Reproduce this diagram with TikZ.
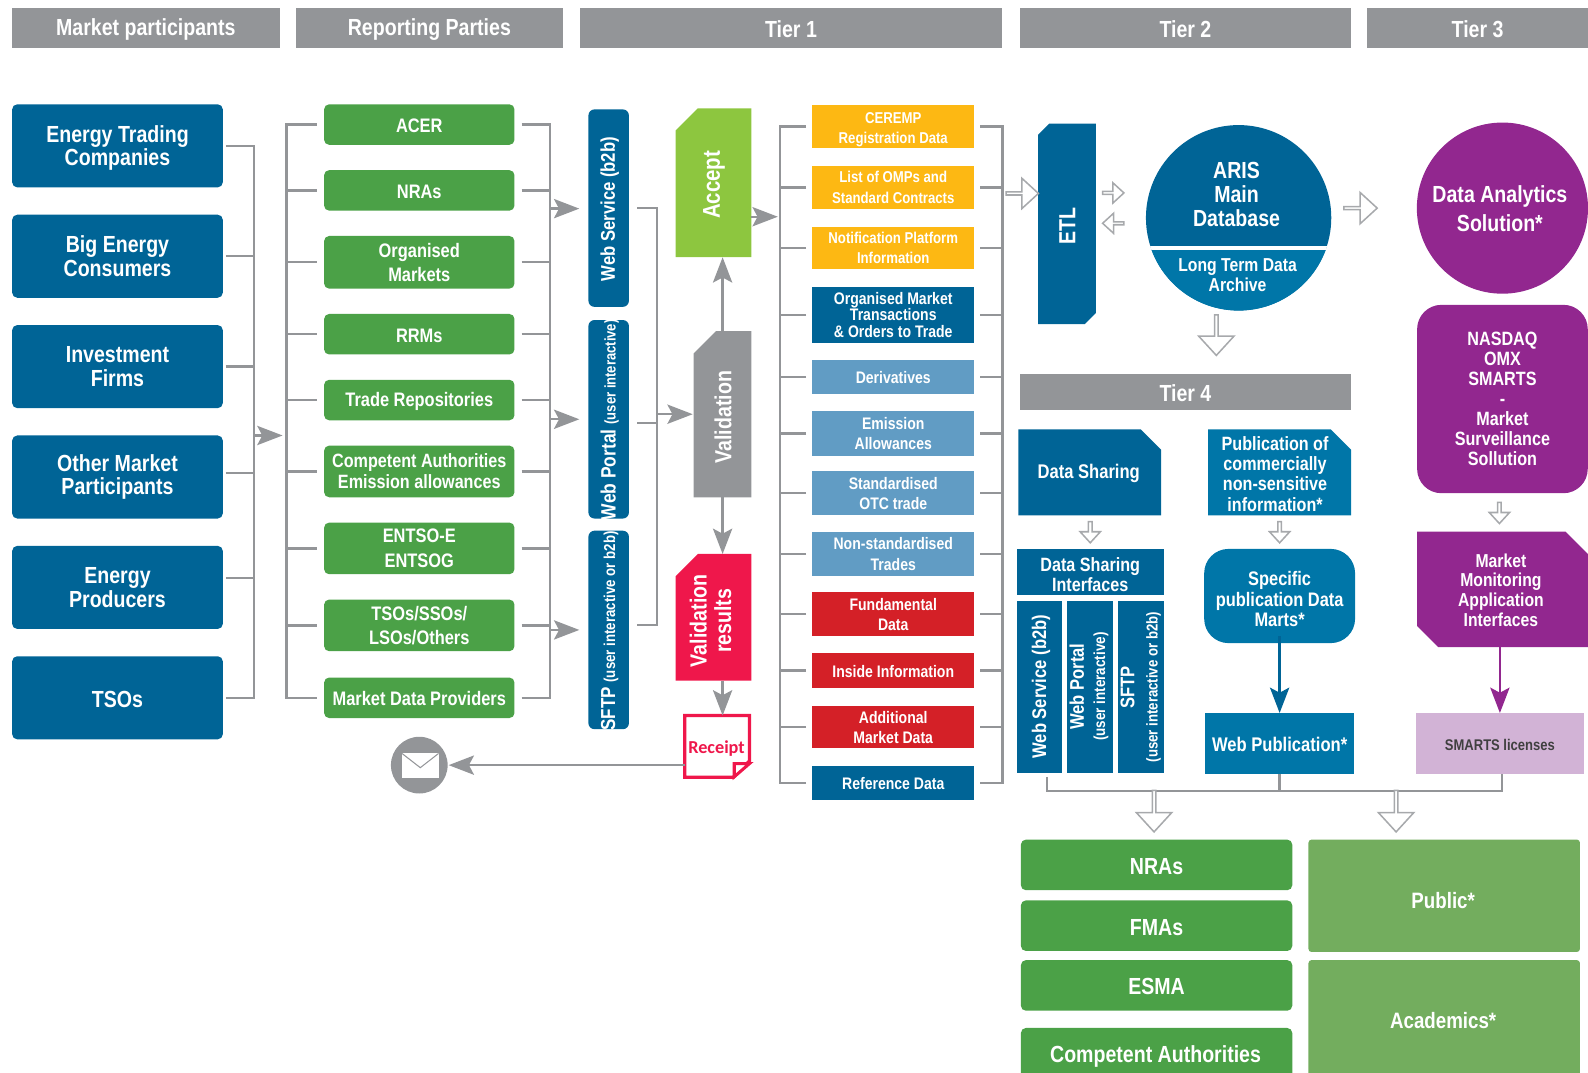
\documentclass[tikz,border=0pt]{standalone}
\usepackage{fontspec}
\usepackage{graphicx}
\setmainfont{Liberation Sans}[FakeStretch=0.84]
\newfontfamily\rcptfont{Carlito}
\usetikzlibrary{arrows.meta,shapes.arrows,calc}
\definecolor{cGray}{HTML}{939598}
\definecolor{cHollow}{HTML}{A7A9AC}
\definecolor{cBlue}{HTML}{006496}
\definecolor{cTeal}{HTML}{0076A8}
\definecolor{cGreen}{HTML}{4BA147}
\definecolor{cLGreen}{HTML}{73AD5E}
\definecolor{cLime}{HTML}{8DC63F}
\definecolor{cYellow}{HTML}{FDB813}
\definecolor{cSky}{HTML}{619CC4}
\definecolor{cRed}{HTML}{D42027}
\definecolor{cPink}{HTML}{EF174B}
\definecolor{cPurple}{HTML}{92278F}
\definecolor{cLilac}{HTML}{D2B3D6}
\newcommand\fz[2]{\fontsize{#1}{#2}\selectfont\bfseries}
\newcommand\rt[1]{\rotatebox{90}{\begin{tabular}{@{}c@{}}#1\end{tabular}}}
\newcommand\dnr[1]{\rule{0pt}{\dimexpr .74em+#1\relax}}
% polygon over a named rectangle: options, node, cut at NW, NE, SE, SW
\newcommand\poly[6]{\path[#1] ($(#2.north west)+(#3,0)$) -- ($(#2.north east)+(-#4,0)$) -- ($(#2.north east)+(0,#4)$) -- ($(#2.south east)+(0,-#5)$) -- ($(#2.south east)+(-#5,0)$) -- ($(#2.south west)+(#6,0)$) -- ($(#2.south west)+(0,-#6)$) -- ($(#2.north west)+(0,#3)$) -- cycle;}
\tikzset{
  box/.style={inner sep=0pt,outer sep=0pt,align=center,text=white,rectangle,execute at begin node={\dnr{2pt}}},
  hdr/.style={fill=cGray,font=\fz{23}{24}},
  mkt/.style={fill=cBlue,rounded corners=5pt,font=\fz{23}{23.5}},
  rep/.style={fill=cGreen,rounded corners=5pt,font=\fz{19.3}{24}},
  web/.style={fill=cBlue,rounded corners=6pt,font=\fz{20}{20}},
  t1y/.style={fill=cYellow,font=\fz{15.5}{20}},
  t1b/.style={fill=cBlue,font=\fz{16.5}{16.5}},
  t1s/.style={fill=cSky,font=\fz{16.5}{20}},
  t1r/.style={fill=cRed,font=\fz{16.5}{20}},
  tot/.style={fill=cGreen,rounded corners=5pt,font=\fz{23}{24}},
  totl/.style={fill=cLGreen,rounded corners=3pt,font=\fz{22}{24}},
  cutb/.style={rectangle,inner sep=0pt,outer sep=0pt},
  vert/.style={fill=cBlue,font=\fz{19.5}{20}},
  lbl/.style={inner sep=0pt,outer sep=0pt,align=center,text=white},
  wire/.style={draw=cGray,line width=2.3pt},
  arr/.style={wire,-{Stealth[length=25pt,width=19pt,inset=5pt]}},
  hollow/.style={single arrow,draw=cHollow,fill=white,line width=1.5pt,inner sep=0pt,outer sep=0pt,single arrow head indent=0pt,single arrow tip angle=85},
}
\begin{document}
\begin{tikzpicture}[x=1pt,y=-1pt]
\useasboundingbox (0,0) rectangle (1568,1059);
\clip (0,0) rectangle (1568,1059);
% headers
\node[box,hdr,minimum width=264,minimum height=39] (h1) at (144,27.5) {Market participants};
\node[box,hdr,minimum width=264,minimum height=39] (h2) at (424,27.5) {Reporting Parties};
\node[box,hdr,minimum width=416,minimum height=39] (h3) at (781,27.5) {Tier 1};
\node[box,hdr,minimum width=327,minimum height=39] (h4) at (1170.5,27.5) {Tier 2};
\node[box,hdr,minimum width=218,minimum height=39] (h5) at (1459,27.5) {Tier 3};
\node[box,hdr,minimum width=327,minimum height=35] (h6) at (1170.5,387) {Tier 4};
% market participants
\node[box,mkt,minimum width=208,minimum height=82] (m1) at (116,144) {\dnr{4pt}Energy Trading\\Companies};
\node[box,mkt,minimum width=208,minimum height=82] (m2) at (116,253) {Big Energy\\Consumers};
\node[box,mkt,minimum width=208,minimum height=82] (m3) at (116,362) {Investment\\Firms};
\node[box,mkt,minimum width=208,minimum height=82] (m4) at (116,471) {Other Market\\Participants};
\node[box,mkt,minimum width=208,minimum height=82] (m5) at (116,580) {Energy\\Producers};
\node[box,mkt,minimum width=208,minimum height=82] (m6) at (116,689) {TSOs};
% reporting parties
\node[box,rep,minimum width=188,minimum height=40] (r1) at (414,123) {ACER};
\node[box,rep,minimum width=188,minimum height=40] (r2) at (414,188) {NRAs};
\node[box,rep,minimum width=188,minimum height=52] (r3) at (414,259) {Organised\\Markets};
\node[box,rep,minimum width=188,minimum height=40] (r4) at (414,330) {RRMs};
\node[box,rep,minimum width=188,minimum height=40] (r5) at (414,395) {Trade Repositories};
\node[box,rep,minimum width=188,minimum height=51,font=\fz{19}{20.5}] (r6) at (414,465.5) {Competent Authorities\\Emission allowances};
\node[box,rep,minimum width=188,minimum height=51] (r7) at (414,541.5) {ENTSO-E\\ENTSOG};
\node[box,rep,minimum width=188,minimum height=51] (r8) at (414,617.5) {TSOs/SSOs/\\LSOs/Others};
\node[box,rep,minimum width=188,minimum height=40] (r9) at (414,689) {Market Data Providers};
% channels
\node[box,web,minimum width=40,minimum height=195] (w1) at (601,205.5) {};
\node[lbl,font=\fz{19.6}{20}] (w1T) at (602,206.5) {\rotatebox{90}{Web Service (b2b)}};
\node[box,web,minimum width=40,minimum height=196] (w2) at (601,414) {};
\node[lbl,font=\fz{20.5}{20}] (w2T) at (602,414.5) {\rotatebox{90}{Web Portal {\fontsize{15.3}{16}\selectfont (user interactive)}}};
\node[box,web,minimum width=40,minimum height=196] (w3) at (601,622) {};
\node[lbl,font=\fz{20}{20}] (w3T) at (602,623) {\rotatebox{90}{SFTP {\fontsize{15.6}{16}\selectfont (user interactive or b2b)}}};
% process
\node[cutb,minimum width=75,minimum height=147] (acc) at (704.5,180.5) {};
\poly{fill=cLime}{acc}{22}{0}{0}{0}
\node[lbl,font=\fz{24}{26}] (accT) at (705,182.5) {\rotatebox{90}{Accept}};
\node[cutb,minimum width=57,minimum height=164] (val) at (713.5,409) {};
\poly{fill=cGray}{val}{22}{0}{0}{0}
\node[lbl,font=\fz{23}{26}] (valT) at (714,412) {\rotatebox{90}{Validation}};
\node[cutb,minimum width=75,minimum height=125] (res) at (704.5,609.5) {};
\poly{fill=cPink}{res}{22}{0}{0}{0}
\node[lbl,font=\fz{23}{24}] (resT) at (705,613) {\rt{Validation\\results}};
\node[cutb,minimum width=64,minimum height=61] (rec) at (708,737) {};
\poly{fill=white,draw=cPink,line width=3.2pt,line join=miter}{rec}{0}{0}{16}{0}
\node[lbl,text=cPink,font=\rcptfont\fontsize{18}{19}\selectfont\bfseries] (recT) at (707.5,739.5) {Receipt};
\coordinate (foldA) at (725,754);
\coordinate (foldB) at (740,754);
\coordinate (foldC) at (725,767);
\draw[cPink,line width=3pt,fill=white,line join=miter] (foldA) -- (foldB) -- (foldC) -- cycle;
\node[circle,fill=cGray,minimum size=56,inner sep=0pt,outer sep=0pt] (mail) at (414,755.5) {};
\node[rectangle,fill=white,minimum width=36,minimum height=24,inner sep=0pt,outer sep=0pt] (env) at (415,756) {};
\coordinate (envV) at (415,758);
\draw[cGray,line width=1pt] (env.north west) -- (envV) -- (env.north east);
% tier 1 boxes
\node[box,t1y,minimum width=160,minimum height=42] (a1) at (882,125) {\dnr{6pt}CEREMP\\Registration Data};
\node[box,t1y,minimum width=160,minimum height=42] (a2) at (882,185) {List of OMPs and\\Standard Contracts};
\node[box,t1y,minimum width=160,minimum height=42] (a3) at (882,245) {Notification Platform\\Information};
\node[box,t1b,minimum width=160,minimum height=55] (a4) at (882,311) {Organised Market\\Transactions\\\& Orders to Trade};
\node[box,t1s,minimum width=160,minimum height=34] (a5) at (882,372) {Derivatives};
\node[box,t1s,minimum width=160,minimum height=44] (a6) at (882,428) {Emission\\Allowances};
\node[box,t1s,minimum width=160,minimum height=44] (a7) at (882,487) {Standardised\\OTC trade};
\node[box,t1s,minimum width=160,minimum height=44] (a8) at (882,547) {Non-standardised\\Trades};
\node[box,t1r,minimum width=160,minimum height=43] (a9) at (882,606.5) {Fundamental\\Data};
\node[box,t1r,minimum width=160,minimum height=34] (a10) at (882,662) {Inside Information};
\node[box,t1r,minimum width=160,minimum height=42] (a11) at (882,718) {Additional\\Market Data};
\node[box,t1b,minimum width=160,minimum height=34] (a12) at (882,773) {Reference Data};
% tier 2
\node[cutb,minimum width=57,minimum height=198] (etl) at (1053.5,221) {};
\poly{fill=cBlue}{etl}{11}{0}{11}{0}
\node[lbl,font=\fz{23}{26}] (etlT) at (1054,223) {\rotatebox{90}{ETL}};
\node[circle,fill=cBlue,minimum size=183,inner sep=0pt,outer sep=0pt] (aris) at (1223,215) {};
\begin{scope}
  \clip (aris.center) circle (91.7);
  \fill[white] (1120,242.6) rectangle (1330,247);
  \fill[cTeal] (1120,247) rectangle (1330,310);
\end{scope}
\node[lbl,font=\fz{23}{24}] (arisT) at (1221,192) {ARIS\\Main\\Database};
\node[lbl,font=\fz{18.5}{20}] (arisB) at (1222,272) {Long Term Data\\Archive};
% tier 3
\node[circle,fill=cPurple,minimum size=169,inner sep=0pt,outer sep=0pt] (das) at (1483.5,205.5) {};
\node[lbl,font=\fz{23}{28}] (dasT) at (1481,206) {Data Analytics\\Solution*};
\node[box,fill=cPurple,rounded corners=24pt,minimum width=168.5,minimum height=186,font=\fz{19}{19.7}] (nas) at (1483.5,394) {NASDAQ\\OMX\\SMARTS\\-\\Market\\Surveillance\\Sollution};
\node[cutb,minimum width=168.5,minimum height=114] (mma) at (1483.5,582) {};
\poly{fill=cPurple}{mma}{0}{22}{0}{21}
\node[lbl,font=\fz{18.5}{19.5}] (mmaT) at (1482,582.5) {Market\\Monitoring\\Application\\Interfaces};
\node[box,fill=cLilac,minimum width=166,minimum height=60,text=black!75,font=\fz{15.3}{16}] (sma) at (1481,734) {SMARTS licenses};
% tier 4
\node[cutb,minimum width=141,minimum height=85] (dsh) at (1076,466.5) {};
\poly{fill=cBlue}{dsh}{0}{20}{0}{0}
\node[lbl,font=\fz{19.5}{20}] (dshT) at (1075,467.5) {Data Sharing};
\node[cutb,minimum width=141,minimum height=85] (pub) at (1263.5,466.5) {};
\poly{fill=cTeal}{pub}{0}{20}{0}{0}
\node[lbl,font=\fz{19}{20}] (pubT) at (1259,468) {Publication of\\commercially\\non-sensitive\\information*};
\node[box,fill=cBlue,minimum width=145,minimum height=45,font=\fz{19}{20}] (dsi) at (1076.5,565) {\dnr{4pt}Data Sharing\\Interfaces};
\node[box,vert,minimum width=45,minimum height=170] (d1) at (1026.5,678) {};
\node[lbl,font=\fz{19.5}{20}] (d1T) at (1028,678) {\rotatebox{90}{Web Service (b2b)}};
\node[box,vert,minimum width=45,minimum height=170] (d2) at (1076.5,678) {};
\node[lbl,font=\fz{19.5}{21}] (d2T) at (1076.5,678) {\rt{Web Portal\\{\fontsize{15.8}{16}\selectfont (user interactive)}}};
\node[box,vert,minimum width=45,minimum height=170] (d3) at (1126.5,678) {};
\node[lbl,font=\fz{19.5}{23}] (d3T) at (1127,678.5) {\rt{SFTP\\{\fontsize{15.5}{16}\selectfont (user interactive or b2b)}}};
\node[box,fill=cTeal,rounded corners=24pt,minimum width=149,minimum height=93,font=\fz{19.3}{20}] (spe) at (1263.5,588.5) {\dnr{6pt}Specific\\publication Data\\Marts*};
\node[box,fill=cTeal,minimum width=147,minimum height=60,font=\fz{19.5}{20}] (wpb) at (1263.5,734) {Web Publication*};
% recipients
\node[box,tot,minimum width=268,minimum height=50] (n1) at (1142,854) {NRAs};
\node[box,tot,minimum width=268,minimum height=50] (n2) at (1142,914) {FMAs};
\node[box,tot,minimum width=268,minimum height=50] (n3) at (1142,973) {ESMA};
\node[box,tot,minimum width=268,minimum height=64,anchor=north] (n4) at (1142,1015) {};
\node[lbl,font=\fz{23}{24}] (n4T) at (1141,1043) {Competent Authorities};
\node[box,totl,minimum width=268,minimum height=111] (p1) at (1426,884.5) {};
\node[lbl,font=\fz{22}{24}] (p1T) at (1425,889) {Public*};
\node[box,totl,minimum width=268,minimum height=130,anchor=north] (p2) at (1426,948) {};
\node[lbl,font=\fz{22}{24}] (p2T) at (1425,1008) {Academics*};
% hollow arrows
\node[hollow,minimum height=32,minimum width=30,single arrow head extend=6.5] (ha1) at (1008.5,191) {};
\node[hollow,minimum height=21,minimum width=20,single arrow head extend=4.5] (ha2) at (1098.5,190.5) {};
\node[hollow,minimum height=21,minimum width=20,single arrow head extend=4.5,shape border rotate=180] (ha3) at (1100,220.5) {};
\node[hollow,minimum height=33,minimum width=31,single arrow head extend=7] (ha4) at (1342.5,205.5) {};
\node[hollow,minimum height=40,minimum width=35,single arrow head extend=7,shape border rotate=270] (ha5) at (1201,330) {};
\node[hollow,minimum height=21,minimum width=20,single arrow head extend=3.5,shape border rotate=270] (ha6) at (1076.5,524.5) {};
\node[hollow,minimum height=21,minimum width=20,single arrow head extend=3.5,shape border rotate=270] (ha7) at (1263.5,524.5) {};
\node[hollow,minimum height=21,minimum width=20,single arrow head extend=3.5,shape border rotate=270] (ha8) at (1480.5,505.5) {};
% connector coordinates
\coordinate (tA) at (251,0);
\coordinate (tB) at (283,0);
\coordinate (tC) at (543,0);
\coordinate (tD) at (649,0);
\coordinate (tE) at (770,0);
\coordinate (tF) at (990,0);
\coordinate (inB) at (279,430);
\coordinate (inW1) at (572,206);
\coordinate (inW2) at (572,414);
\coordinate (inW3) at (572,622);
\coordinate (inV) at (684,409);
\coordinate (inT) at (768,214);
% market -> trunk A
\foreach \n/\s in {m1/0,m2/0,m3/0,m4/4,m5/9,m6/0} \draw[wire] ([xshift=3,yshift=\s]\n.east) -- ([yshift=\s]\n.east -| tA);
\draw[wire,line cap=rect] (m1.east -| tA) -- (m6.east -| tA);
\draw[arr] (inB -| tA) -- (inB);
% reporting trunks
\foreach \n in {r1,r2,r3,r4,r5,r6,r7,r8,r9} {
  \draw[wire] ([xshift=-7]\n.west) -- (\n.west -| tB);
  \draw[wire] ([xshift=7]\n.east) -- (\n.east -| tC);
}
\draw[wire,line cap=rect] (r1.west -| tB) -- (r9.west -| tB);
\draw[wire,line cap=rect] (r1.east -| tC) -- (r9.east -| tC);
\draw[arr] (inW1 -| tC) -- (inW1);
\draw[arr] (inW2 -| tC) -- (inW2);
\draw[arr] (inW3 -| tC) -- (inW3);
% channels -> validation
\foreach \n/\s in {w1/0,w2/-4,w3/5} \draw[wire] ([xshift=8,yshift=\s]\n.east) -- ([yshift=\s]\n.east -| tD);
\draw[wire,line cap=rect] (w1.east -| tD) -- ([yshift=5]w3.east -| tD);
\draw[arr] (inV -| tD) -- (inV);
% process arrows
\draw[arr] (val.north) -- (val.north |- acc.south);
\draw[arr] (val.south) -- (val.south |- res.north);
\draw[arr] (val.south |- res.south) -- (val.south |- rec.north);
\draw[arr] (rec.west |- mail.east) -- ([xshift=1]mail.east);
\draw[arr] (acc.east |- inT) -- (inT);
% tier 1 trunks
\foreach \n in {a1,a2,a3,a4,a5,a6,a7,a8,a9,a10,a11,a12} {
  \draw[wire] ([xshift=-6]\n.west) -- (\n.west -| tE);
  \draw[wire] ([xshift=6]\n.east) -- (\n.east -| tF);
}
\draw[wire,line cap=rect] (a1.west -| tE) -- (a12.west -| tE);
\draw[wire,line cap=rect] (a1.east -| tF) -- (a12.east -| tF);
% tier 4 arrows
\draw[line width=2.3pt,draw=cBlue,-{Stealth[length=25pt,width=19pt,inset=5pt]}] ([yshift=7]spe.south) -- (wpb.north);
\draw[line width=2.3pt,draw=cPurple,-{Stealth[length=25pt,width=19pt,inset=5pt]}] (mma.south -| sma.north) -- (sma.north);
% bottom collector
\coordinate (bar) at (0,781);
\coordinate (barL) at (1034,767);
\coordinate (barR) at (1483,764);
\draw[wire] (barL) -- (bar -| barL) -- (bar -| barR) -- (barR);
\draw[wire] (wpb.south) -- (bar -| wpb.south);
\node[hollow,minimum height=41,minimum width=35,single arrow head extend=7,shape border rotate=270] (ha9) at (1139.5,800) {};
\node[hollow,minimum height=41,minimum width=35,single arrow head extend=7,shape border rotate=270] (ha10) at (1378.5,800) {};
\end{tikzpicture}
\end{document}
